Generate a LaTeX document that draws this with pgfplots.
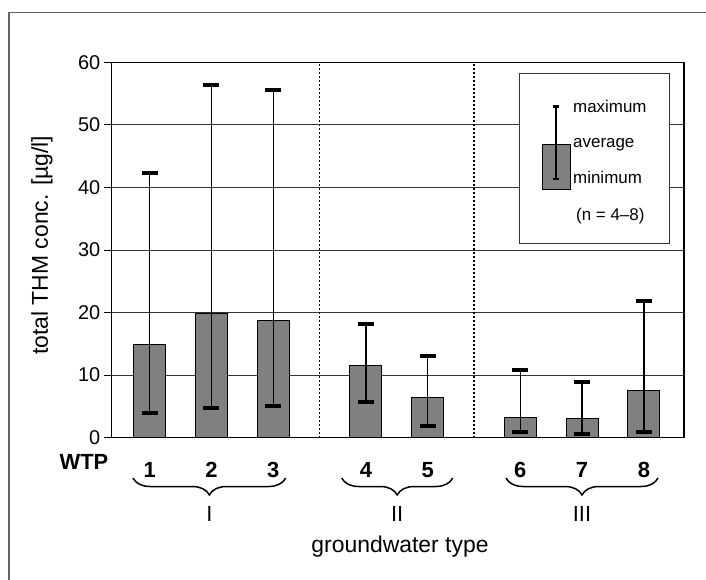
\documentclass[border=0pt]{standalone}
\usepackage{fontspec}
\setmainfont{Liberation Sans}
\usepackage{pgfplots}
\usepackage{pgfplotstable}
\pgfplotsset{compat=1.18}
\usetikzlibrary{decorations.pathreplacing}

\definecolor{bargray}{RGB}{128,128,128}
\definecolor{framegray}{RGB}{100,100,100}

% WTP position, minimum, average, maximum total THM [ug/l]
\pgfplotstableread{
x    min   avg   max
0    3.9   14.9  42.35
1    4.8   19.8  56.4
2    5.1   18.8  55.6
3.5  5.7   11.5  18.1
4.5  1.8   6.4   13.1
6    0.9   3.3   10.8
7    0.65  3.0   8.9
8    0.9   7.6   21.8
}\thmdata

\begin{document}
\begin{tikzpicture}
\useasboundingbox (0,0) rectangle (706bp,-580bp);
\draw[framegray, line width=1.3bp] (9bp,-580bp) -- (9bp,-12.5bp) -- (706bp,-12.5bp);

\begin{axis}[
    at={(111.7bp,-437.7bp)}, anchor=south west,
    width=572.3bp, height=375.4bp, scale only axis,
    xmin=-0.615, xmax=8.65, ymin=0, ymax=60,
    ybar, bar width=0.52,
    axis line style={black, line width=1.2bp},
    ytick={0,10,...,60},
    ymajorgrids, grid style={black!80, line width=0.8bp},
    tick pos=left, tick align=outside,
    major tick length=8bp,
    ytick style={black, line width=1bp},
    xtick={0,1,2,3.5,4.5,6,7,8},
    xticklabels={1,2,3,4,5,6,7,8},
    xtick style={draw=none},
    /pgf/number format/assume math mode=true,
    xticklabel style={font=\fontsize{22}{26}\selectfont\bfseries, anchor=center, yshift=-24bp},
    yticklabel style={font=\fontsize{20}{24}\selectfont},
    ylabel={total THM conc. [µg/l]},
    ylabel style={font=\fontsize{23}{27}\selectfont, at={(axis description cs:-0.1218,0.5125)}, anchor=center},
    xlabel={groundwater type},
    xlabel style={font=\fontsize{23}{27}\selectfont, at={(axis description cs:0.5038,-0.291)}, anchor=center},
  ]
  \draw[black, line width=1.3bp, dash pattern=on 2bp off 2bp] (axis cs:2.75,0) -- (axis cs:2.75,60);
  \draw[black, line width=1.3bp, dash pattern=on 2bp off 2bp] (axis cs:5.25,0) -- (axis cs:5.25,60);
  \addplot[fill=bargray, draw=black, line width=1bp,
    error bars/.cd, y dir=both, y explicit,
    error mark=|,
    error bar style={black, line width=1.4bp},
    error mark options={black, mark size=8bp, line width=4bp}]
    table[x=x, y=avg,
      y error plus expr=\thisrow{max}-\thisrow{avg},
      y error minus expr=\thisrow{avg}-\thisrow{min}] {\thmdata};
\end{axis}

% WTP row label
\node[font=\fontsize{22}{26}\selectfont\bfseries, anchor=center] at (84bp,-461.7bp) {WTP};

% groundwater type braces
\draw[decorate, decoration={brace, mirror, amplitude=17bp}, line width=1.5bp]
  (133bp,-478bp) -- (285.7bp,-478bp);
\draw[decorate, decoration={brace, mirror, amplitude=17bp}, line width=1.5bp]
  (341.7bp,-478bp) -- (452.7bp,-478bp);
\draw[decorate, decoration={brace, mirror, amplitude=17bp}, line width=1.5bp]
  (506bp,-478bp) -- (658bp,-478bp);
\node[font=\fontsize{22}{26}\selectfont] at (209.4bp,-513.7bp) {I};
\node[font=\fontsize{22}{26}\selectfont] at (397.2bp,-513.7bp) {II};
\node[font=\fontsize{22}{26}\selectfont] at (582bp,-513.7bp) {III};

% key
\draw[black!80, line width=1bp, fill=white] (519bp,-73bp) rectangle (669bp,-243bp);
\draw[black, line width=1bp, fill=bargray] (542.3bp,-144.7bp) rectangle (570bp,-189bp);
\draw[black, line width=1.3bp] (556bp,-106.7bp) -- (556bp,-179bp);
\draw[black, line width=2.7bp] (553bp,-106.7bp) -- (559bp,-106.7bp);
\draw[black, line width=2.7bp] (553bp,-179bp) -- (559bp,-179bp);
\begin{scope}[every node/.style={font=\fontsize{17}{20}\selectfont, anchor=west, inner sep=0pt}]
  \node at (573bp,-106.7bp) {maximum};
  \node at (573bp,-145bp) {average};
  \node at (573bp,-177.5bp) {minimum};
  \node at (576bp,-216.5bp) {(n = 4–8)};
\end{scope}
\end{tikzpicture}
\end{document}
